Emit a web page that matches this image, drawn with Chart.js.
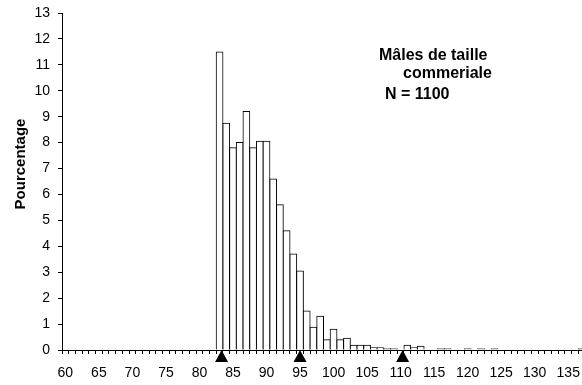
<!DOCTYPE html>
<html lang="fr">
<head>
<meta charset="utf-8">
<title>Mâles de taille commeriale</title>
<script src="https://cdn.jsdelivr.net/npm/chart.js@4.4.1/dist/chart.umd.min.js"></script>
<style>
  html, body { margin: 0; padding: 0; background: #ffffff; overflow: hidden; }
  #wrap { width: 585px; height: 385px; }
</style>
</head>
<body>
<div id="wrap"><canvas id="size-chart" width="585" height="385"></canvas></div>
<script>
// Size classes (mm) shown on the x axis
const SIZE_CLASSES = [];
for (let s = 60; s <= 137; s++) SIZE_CLASSES.push(String(s));

// Percentage of individuals per size class, starting at 83
const FIRST_CLASS = 83;
const PERCENTAGES = [
  11.5, 8.75, 7.8, 8.0, 9.2, 7.8, 8.05, 8.05, 6.6, 5.6,
  4.6, 3.7, 3.05, 1.5, 0.88, 1.3, 0.4, 0.8, 0.4, 0.45,
  0.18, 0.18, 0.18, 0.09, 0.09, 0.05, 0.05, 0, 0.18, 0.09,
  0.14, 0, 0, 0.05, 0.05, 0, 0, 0.05, 0, 0.05,
  0, 0.05, 0, 0, 0, 0, 0, 0, 0, 0,
  0, 0, 0, 0, 0.05,
];

// Arrow markers on the size axis
const MARKER_SIZES = [83.3, 95.0, 110.3];

const Y_TICKS_MAX = 13;
const Y_TITLE = "Pourcentage";
const NOTE_LINES = ["Mâles de taille", "commeriale", "N = 1100"];

const FONT = "'Liberation Sans', Arial, sans-serif";

// full series aligned on the category labels
const barValues = SIZE_CLASSES.map((label) => {
  const i = Number(label) - FIRST_CLASS;
  return i >= 0 && i < PERCENTAGES.length ? PERCENTAGES[i] : 0;
});

// triangles hanging under the x axis, placed with the category scale
const markerPlugin = {
  id: "sizeMarkers",
  afterDraw(chart) {
    const { ctx, scales } = chart;
    const first = Number(SIZE_CLASSES[0]);
    const y0 = scales.y.getPixelForValue(0);
    ctx.save();
    ctx.fillStyle = "#000000";
    MARKER_SIZES.forEach((size) => {
      const x = scales.x.getPixelForValue(size - first);
      ctx.beginPath();
      ctx.moveTo(x, y0);
      ctx.lineTo(x + 6.5, y0 + 12);
      ctx.lineTo(x - 6.5, y0 + 12);
      ctx.closePath();
      ctx.fill();
    });
    ctx.restore();
  },
};

const textPlugin = {
  id: "chartText",
  afterDraw(chart) {
    const ctx = chart.ctx;
    ctx.save();
    ctx.fillStyle = "#000000";
    ctx.font = "bold 15px " + FONT;
    ctx.textBaseline = "alphabetic";

    // axis title
    ctx.save();
    ctx.translate(25, 164);
    ctx.rotate(-Math.PI / 2);
    ctx.textAlign = "center";
    ctx.fillText(Y_TITLE, 0, 0);
    ctx.restore();

    // note in the upper right
    ctx.font = "bold 16px " + FONT;
    ctx.textAlign = "left";
    ctx.fillText(NOTE_LINES[0], 379, 60);
    ctx.fillText(NOTE_LINES[1], 403, 78);
    ctx.fillText(NOTE_LINES[2], 385, 99);
    ctx.restore();
  },
};

const config = {
  type: "bar",
  data: {
    labels: SIZE_CLASSES,
    datasets: [
      {
        data: barValues,
        backgroundColor: "#ffffff",
        borderColor: "#000000",
        borderWidth: 1,
        inflateAmount: 0.5, // neighbouring bars share one outline
        categoryPercentage: 1,
        barPercentage: 1,
      },
    ],
  },
  options: {
    responsive: false,
    animation: false,
    layout: { padding: { top: 13, left: 0, right: 0, bottom: 0 } },
    plugins: {
      legend: { display: false },
      tooltip: { enabled: false },
    },
    scales: {
      x: {
        offset: true,
        grid: {
          offset: true,
          drawOnChartArea: false,
          drawTicks: true,
          tickLength: 4,
          color: "#000000",
        },
        border: { display: true, color: "#000000", width: 1 },
        ticks: {
          autoSkip: false,
          maxRotation: 0,
          minRotation: 0,
          padding: 11,
          color: "#000000",
          font: { family: FONT, size: 14 },
          callback: function (value) {
            const label = this.getLabelForValue(value);
            return Number(label) % 5 === 0 ? label : "";
          },
        },
        afterFit: (scale) => {
          // plot runs up to the right edge, like the original
          scale.height = 35;
          scale.paddingLeft = 0;
          scale.paddingRight = 0;
        },
      },
      y: {
        min: 0,
        max: Y_TICKS_MAX,
        grid: {
          drawOnChartArea: false,
          drawTicks: true,
          tickLength: 4,
          color: "#000000",
        },
        border: { display: true, color: "#000000", width: 1 },
        ticks: {
          stepSize: 1,
          padding: 8,
          color: "#000000",
          font: { family: FONT, size: 14 },
        },
        afterFit: (scale) => {
          scale.width = 62;
          scale.paddingTop = 0;
          scale.paddingBottom = 0;
        },
      },
    },
  },
  plugins: [markerPlugin, textPlugin],
};

new Chart(document.getElementById("size-chart"), config);
</script>
</body>
</html>
